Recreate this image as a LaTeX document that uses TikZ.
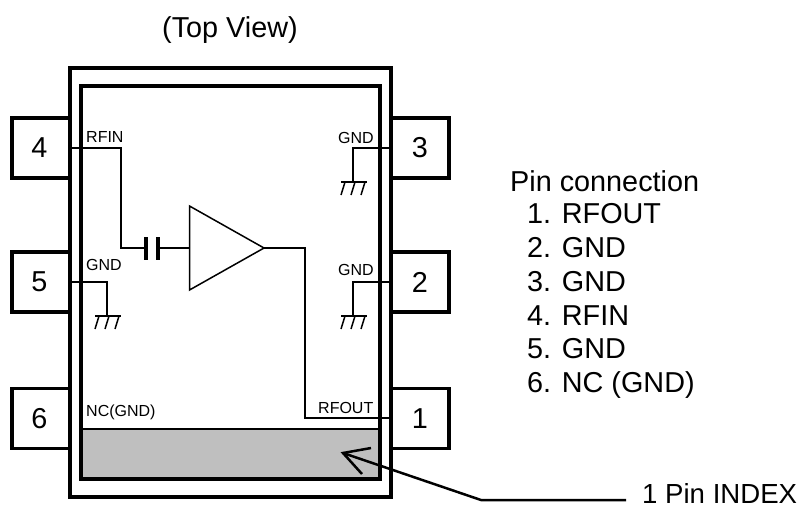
\documentclass[tikz,border=0pt]{standalone}
\usepackage{fontspec}
\setmainfont{Liberation Sans}
\newcommand{\bigt}{\fontsize{28.8}{32}\selectfont}
\newcommand{\idxt}{\fontsize{27.6}{30}\selectfont}
\newcommand{\smallt}{\fontsize{16}{18}\selectfont}
\tikzset{
  pinbox/.style={draw=black,line width=3.5pt,fill=white,minimum width=58pt,minimum height=60pt,inner sep=0pt,font=\bigt},
  wire/.style={draw=black,line width=1.5pt},
  heavy/.style={draw=black,line width=3.5pt},
  leader/.style={draw=black,line width=2.5pt},
  biglabel/.style={anchor=base west,inner sep=0pt,font=\bigt},
  smalllabel/.style={anchor=base west,inner sep=0pt,font=\smallt},
}
\newcommand{\groundsym}[1]{%
  \draw[wire] (#1) ++(-12,0) -- ++(26,0);
  \draw[wire] (#1) ++(-8,0) -- ++(-4,13);
  \draw[wire] (#1) ++(2,0) -- ++(-4,13);
  \draw[wire] (#1) ++(12,0) -- ++(-4,13);
}
\begin{document}
\begin{tikzpicture}[x=1pt,y=-1pt]
\useasboundingbox (0,0) rectangle (802,507);
% package
\node[heavy,minimum width=321pt,minimum height=429pt,inner sep=0pt] (body) at (230.5,282.5) {};
\node[draw=black,line width=1.5pt,fill=black!25,minimum width=299pt,minimum height=50pt,inner sep=0pt] (index) at (230.5,454) {};
\node[heavy,minimum width=299pt,minimum height=393pt,inner sep=0pt] (die) at (230.5,282.5) {};
% pins
\node[pinbox] (p4) at (41,148) {\hspace*{-3pt}4};
\node[pinbox] (p5) at (41,282) {\hspace*{-3pt}5};
\node[pinbox] (p6) at (41,418.5) {\hspace*{-3pt}6};
\node[pinbox] (p3) at (420,148) {3};
\node[pinbox] (p2) at (420,282) {2};
\node[pinbox] (p1) at (420,418.5) {1};
% junctions
\coordinate (r1) at (121,148);
\coordinate (r2) at (121,248);
\coordinate (capL) at (146,248);
\coordinate (capR) at (158,248);
\coordinate (ampIn) at (189.5,248);
\coordinate (ampTip) at (264,248);
\coordinate (o1) at (305,248);
\coordinate (o2) at (305,418);
\coordinate (g5a) at (107,282);
\coordinate (g5b) at (107,316);
\coordinate (g3a) at (353,148);
\coordinate (g3b) at (353,182);
\coordinate (g2a) at (353,282);
\coordinate (g2b) at (353,316);
% RF path
\draw[wire] (p4.east) -- (r1) -- (r2) -- (capL);
\draw[draw=black,line width=3.5pt] (146,237) -- (146,260);
\draw[draw=black,line width=3.5pt] (158,237) -- (158,260);
\draw[wire] (capR) -- (ampIn);
\draw[wire,line join=miter] (189.5,206) -- (ampTip) -- (189.5,290) -- cycle;
\draw[wire] (ampTip) -- (o1) -- (o2) -- (p1.west |- o2);
% grounds
\draw[wire] (p5.east) -- (g5a) -- (g5b);
\groundsym{g5b}
\draw[wire] (p3.west) -- (g3a) -- (g3b);
\groundsym{g3b}
\draw[wire] (p2.west) -- (g2a) -- (g2b);
\groundsym{g2b}
% small labels
\node[smalllabel] (lrfin) at (86,142) {RFIN};
\node[smalllabel] (lgnd5) at (86,270) {GND};
\node[smalllabel] (lnc) at (86,416) {NC(GND)};
\node[smalllabel] (lgnd3) at (338,143) {GND};
\node[smalllabel] (lgnd2) at (338,275) {GND};
\node[smalllabel] (lrfout) at (318,413) {RFOUT};
% text
\node[biglabel] (title) at (162,37) {(Top View)};
\node[biglabel] (h) at (510,191) {Pin connection};
\node[biglabel] (l1) at (527,223) {1. RFOUT};
\node[biglabel] (l2) at (527,257) {2. GND};
\node[biglabel] (l3) at (527,291) {3. GND};
\node[biglabel] (l4) at (527,325) {4. RFIN};
\node[biglabel] (l5) at (527,358) {5. GND};
\node[biglabel] (l6) at (527,392) {6. NC (GND)};
\node[anchor=base west,inner sep=0pt,font=\idxt] (pinidx) at (642,503) {1 Pin INDEX};
% leader
\coordinate (tip) at (343,453);
\coordinate (bend) at (481,500);
\coordinate (lend) at (626,500);
\draw[leader] (lend) -- (bend) -- (tip);
\draw[leader] (371,448) -- (tip) -- (362,474);
\end{tikzpicture}
\end{document}
